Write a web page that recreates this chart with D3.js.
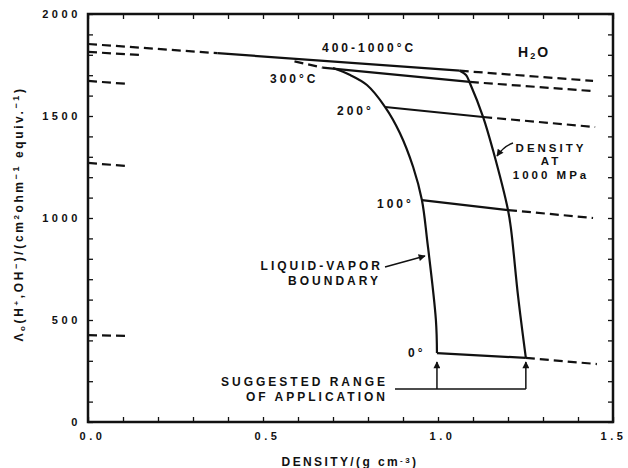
<!DOCTYPE html>
<html>
<head>
<meta charset="utf-8">
<script src="https://cdn.jsdelivr.net/npm/d3@7"></script>
<style>
body { margin: 0; background: #fff; }
text { font-family: "Liberation Sans", Arial, sans-serif; font-weight: bold; fill: #111; }
</style>
</head>
<body>
<div id="cont"></div>
<script>
// Data //

var densityTicks = d3.range(0, 16).map(function(i) { return i / 10; });
var lambdaTicks = d3.range(0, 2001, 100);
var densityLabels = [0, 0.5, 1.0, 1.5];
var lambdaLabels = [0, 500, 1000, 1500, 2000];

var isoNames = ["400-1000°C", "300°C", "200°", "100°", "0°"];

// solid part of each isotherm (inside the range of application)
var isoSolid = [
	[[0.37, 1808], [1.062, 1722]],
	[[0.67, 1737], [1.091, 1667]],
	[[0.849, 1544], [1.129, 1495]],
	[[0.954, 1088], [1.2, 1039]],
	[[0.997, 338], [1.251, 314]]
];
// dashed extrapolation to higher density
var isoDashRight = [
	[[1.062, 1722], [1.443, 1672]],
	[[1.091, 1667], [1.443, 1622]],
	[[1.129, 1495], [1.449, 1446]],
	[[1.2, 1039], [1.443, 1000]],
	[[1.251, 314], [1.454, 284]]
];
// dashed extrapolation near zero density
var isoDashLeft = [
	[[0, 1853], [0.37, 1808]],
	[[0, 1814], [0.15, 1799]],
	[[0, 1672], [0.115, 1657]],
	[[0, 1270], [0.11, 1255]],
	[[0, 426], [0.11, 422]]
];
var isoDash300 = [[0.59, 1768], [0.67, 1737]];

var liquidVapor = [
	[0.70, 1735], [0.749, 1701], [0.797, 1652], [0.849, 1544], [0.891, 1417],
	[0.929, 1250], [0.954, 1088], [0.969, 892], [0.994, 500], [0.997, 338]
];
var density1000 = [
	[1.062, 1722], [1.08, 1701], [1.091, 1662], [1.129, 1495], [1.157, 1333],
	[1.2, 1039], [1.209, 941], [1.229, 613], [1.251, 314]
];

// SVG Stuff //

var W = 628, H = 468;
var L = 88, R = 613, T = 14, B = 422;

var svg = d3.select("#cont").append("svg").attr("width", W).attr("height", H);

var x = d3.scaleLinear().domain([0, 1.5]).range([L, R]);
var y = d3.scaleLinear().domain([0, 2000]).range([B, T]);

var fmtX = function(d) { return densityLabels.indexOf(d) >= 0 ? d3.format(".1f")(d) : ""; };
var fmtY = function(d) { return lambdaLabels.indexOf(d) >= 0 ? d : ""; };

var axisStyle = function(g) {
	g.select(".domain").remove();
	g.selectAll(".tick line").attr("stroke", "#111").attr("stroke-width", 1.3);
	g.selectAll("text").style("font-size", "11px").style("letter-spacing", "3.6px").attr("fill", "#111");
};

svg.append("g").attr("transform", "translate(0," + B + ")")
	.call(d3.axisBottom(x).tickValues(densityTicks).tickSize(-5).tickPadding(10).tickFormat(fmtX))
	.call(axisStyle)
	.selectAll("text").attr("dx", function(d) { return d === 1.5 ? 0 : 4; });

svg.append("g").attr("transform", "translate(0," + T + ")")
	.call(d3.axisTop(x).tickValues(densityTicks).tickSize(-5).tickFormat(""))
	.call(axisStyle);

svg.append("g").attr("transform", "translate(" + L + ",0)")
	.call(d3.axisLeft(y).tickValues(lambdaTicks).tickSize(-5).tickPadding(7).tickFormat(fmtY))
	.call(axisStyle);

svg.append("g").attr("transform", "translate(" + R + ",0)")
	.call(d3.axisRight(y).tickValues(lambdaTicks).tickSize(-5).tickFormat(""))
	.call(axisStyle);

svg.append("rect").attr("x", L).attr("y", T).attr("width", R - L).attr("height", B - T)
	.attr("fill", "none").attr("stroke", "#111").attr("stroke-width", 2.5);

// curves
var straight = d3.line().x(function(d) { return x(d[0]); }).y(function(d) { return y(d[1]); });
var smooth = d3.line().x(function(d) { return x(d[0]); }).y(function(d) { return y(d[1]); })
	.curve(d3.curveCatmullRom.alpha(0.5));

var lines = svg.append("g").attr("fill", "none").attr("stroke", "#111");

lines.selectAll("path.solid").data(isoSolid).enter().append("path")
	.attr("class", "solid").attr("stroke-width", 2.2).attr("d", straight);

lines.selectAll("path.dashR").data(isoDashRight.concat(isoDashLeft, [isoDash300])).enter().append("path")
	.attr("class", "dashR").attr("stroke-width", 2.2).attr("stroke-dasharray", "9,5").attr("d", straight);

lines.append("path").datum(liquidVapor).attr("stroke-width", 2.2).attr("d", smooth);
lines.append("path").datum(density1000).attr("stroke-width", 2.2).attr("d", smooth);

// arrow heads
var defs = svg.append("defs");
defs.append("marker").attr("id", "ah").attr("viewBox", "0 0 10 10").attr("refX", 9).attr("refY", 5)
	.attr("markerWidth", 9).attr("markerHeight", 7).attr("markerUnits", "userSpaceOnUse").attr("orient", "auto")
	.append("path").attr("d", "M0,0L10,5L0,10z").attr("fill", "#111");

var ann = svg.append("g");
var label = function(t, px, py, anchor, size) {
	return ann.append("text").attr("x", px).attr("y", py).attr("text-anchor", anchor || "start")
		.style("font-size", (size || 12) + "px").style("letter-spacing", "3px").text(t);
};

// isotherm labels
label(isoNames[0], 322, 52);
label(isoNames[1], 270, 83);
label(isoNames[2], 337, 115);
label(isoNames[3], 377, 208);
label(isoNames[4], 408, 357);

// H2O
var h2o = ann.append("text").attr("x", 518).attr("y", 57).style("font-size", "14px").style("letter-spacing", "2px");
h2o.append("tspan").text("H");
h2o.append("tspan").attr("baseline-shift", "-25%").style("font-size", "9px").text("2");
h2o.append("tspan").text("O");

// density at 1000 MPa
label("DENSITY", 551, 152, "middle", 11.5);
label("AT", 551, 164.5, "middle", 11.5);
label("1000 MPa", 551, 179, "middle", 11.5);
ann.append("path").attr("d", "M513,143 Q504,146 497,156").attr("fill", "none").attr("stroke", "#111")
	.attr("stroke-width", 1.5).attr("marker-end", "url(#ah)");

// liquid vapor boundary
label("LIQUID-VAPOR", 383, 270, "end");
label("BOUNDARY", 381, 285, "end");
ann.append("path").attr("d", "M385,267 L425,256").attr("fill", "none").attr("stroke", "#111")
	.attr("stroke-width", 1.5).attr("marker-end", "url(#ah)");

// suggested range
label("SUGGESTED RANGE", 388, 386, "end");
label("OF APPLICATION", 388, 401, "end");
ann.append("path").attr("d", "M395," + 389 + " H" + x(1.251)).attr("fill", "none").attr("stroke", "#111").attr("stroke-width", 1.5);
[0.997, 1.251].forEach(function(d) {
	ann.append("path").attr("d", "M" + x(d) + ",389 V362").attr("fill", "none").attr("stroke", "#111")
		.attr("stroke-width", 1.5).attr("marker-end", "url(#ah)");
});

// axis titles
var xt = ann.append("text").attr("x", 350).attr("y", 466).attr("text-anchor", "middle")
	.style("font-size", "12px").style("letter-spacing", "2.4px");
xt.append("tspan").text("DENSITY/(g cm");
xt.append("tspan").attr("baseline-shift", "40%").style("font-size", "8px").text("-3");
xt.append("tspan").text(")");

var yt = ann.append("text").attr("transform", "translate(23,214) rotate(-90)").attr("text-anchor", "middle")
	.style("font-size", "12px").style("letter-spacing", "2.6px");
yt.append("tspan").text("Λ");
yt.append("tspan").attr("baseline-shift", "-30%").style("font-size", "8px").text("o");
yt.append("tspan").text("(H");
yt.append("tspan").attr("baseline-shift", "45%").style("font-size", "8px").text("+");
yt.append("tspan").text(",OH");
yt.append("tspan").attr("baseline-shift", "45%").style("font-size", "9px").text("−");
yt.append("tspan").text(")/(cm");
yt.append("tspan").attr("baseline-shift", "45%").style("font-size", "8px").text("2");
yt.append("tspan").text("ohm");
yt.append("tspan").attr("baseline-shift", "45%").style("font-size", "9px").text("−1");
yt.append("tspan").text(" equiv.");
yt.append("tspan").attr("baseline-shift", "45%").style("font-size", "9px").text("−1");
yt.append("tspan").text(")");
</script>
</body>
</html>
